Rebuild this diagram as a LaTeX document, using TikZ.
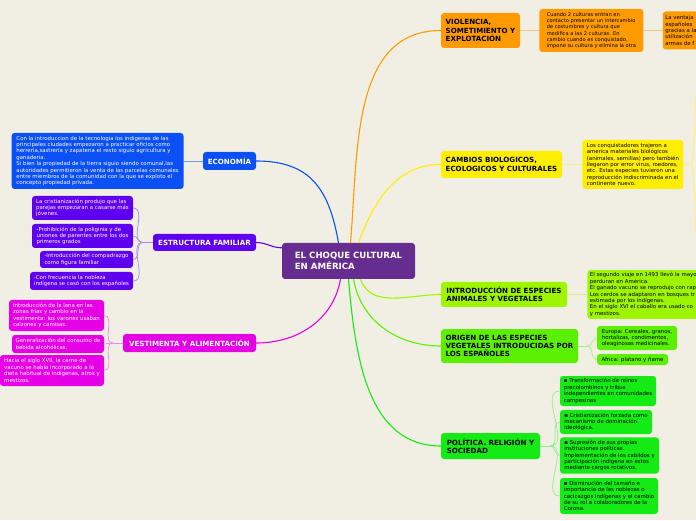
\documentclass[tikz,border=0pt]{standalone}
\usepackage{fontspec}
\setmainfont{DejaVu Sans}
\usepackage{xcolor}
\usepackage{tikz}
\usetikzlibrary{positioning}
\definecolor{cBg}{HTML}{F1EFE3}
\definecolor{cRoot}{HTML}{662D91}
\definecolor{cEco}{HTML}{0A50F5}
\definecolor{cEcoL}{HTML}{7096F2}
\definecolor{cFam}{HTML}{6000F0}
\definecolor{cFamL}{HTML}{A486F2}
\definecolor{cVest}{HTML}{E600E6}
\definecolor{cVestL}{HTML}{EE84EE}
\definecolor{cViol}{HTML}{FF9A00}
\definecolor{cViolL}{HTML}{F4C680}
\definecolor{cCamb}{HTML}{FFEE00}
\definecolor{cCambL}{HTML}{FFF07C}
\definecolor{cIntro}{HTML}{9EF500}
\definecolor{cIntroL}{HTML}{C9F480}
\definecolor{cOrig}{HTML}{5AF000}
\definecolor{cOrigL}{HTML}{A6F27E}
\definecolor{cPol}{HTML}{14EA14}
\definecolor{cPolL}{HTML}{8CF08C}

\begin{document}
\begin{tikzpicture}[
    x=1pt, y=1pt,
    font=\fontsize{5.4}{6.4}\selectfont,
    box/.style={rounded corners=3pt, inner sep=2.5pt, align=left},
    topic/.style={box, font=\fontsize{7.1}{8.4}\selectfont\bfseries},
    leaf/.style={box},
    link/.style={line width=1.1pt},
    twig/.style={line width=0.7pt}
]
\clip (0,0) rectangle (696,520);
\fill[cBg] (0,0) rectangle (696,520);

% --- root ---
\node[box, fill=cRoot, text=white, minimum width=133, minimum height=36,
      font=\fontsize{8.6}{11}\selectfont\bfseries] (root) at (348.5,259)
  {EL CHOQUE CULTURAL\\EN AMÉRICA};

% --- left: economia ---
\node[topic, fill=cEco, text=white, minimum width=53, minimum height=18] (eco) at (229.5,359) {ECONOMÍA};
\node[leaf, fill=cEco, text=white, minimum width=172, minimum height=56, left=19pt of eco] (ecotxt)
  {Con la introduccion de la tecnologia los indigenas de las\\
   principales ciudades empezaron a practicar oficios como\\
   herreria,sastreria y zapateria el resto siguio agricultura y\\
   ganaderia.\\
   Si bien la propiedad de la tierra siguio siendo comunal,las\\
   autoridades permitieron la venta de las parcelas comunales\\
   entre miembros de la comunidad con la que se exploto el\\
   concepto propiedad privada.};

% --- left: estructura familiar ---
\node[topic, fill=cFam, text=white, minimum width=103, minimum height=17] (fam) at (204.5,277.5) {ESTRUCTURA FAMILIAR};
\node[leaf, fill=cFam, text=white, minimum width=101, minimum height=24] (fam1) at (82.5,312)
  {La cristianización produjo que las\\parejas empezaran a casarse más\\jóvenes.};
\node[leaf, fill=cFam, text=white, minimum width=101, minimum height=24] (fam2) at (82.5,284)
  {-Prohibición de la poliginia y de\\uniones de parentes entre los dos\\primeros grados};
\node[leaf, fill=cFam, text=white, minimum width=93, minimum height=17] (fam3) at (86.5,260.5)
  {-Introducción del compadrazgo\\como figura familiar};
\node[leaf, fill=cFam, text=white, minimum width=103, minimum height=18] (fam4) at (81.5,239)
  {-Con frecuencia la nobleza\\indígena se casó con los españoles};

% --- left: vestimenta ---
\node[topic, fill=cVest, text=white, minimum width=133, minimum height=18] (ves) at (189.5,177) {VESTIMENTA Y ALIMENTACIÓN};
\node[leaf, fill=cVest, text=white, minimum width=95, minimum height=31] (ves1) at (56.5,204.5)
  {Introducción de la lana en las\\zonas frías y cambio en la\\vestimenta: los varones usaban\\calzones y camisas.};
\node[leaf, fill=cVest, text=white, minimum width=92, minimum height=18] (ves2) at (58,176)
  {Generalización del consumo de\\bebida alcohólicas.};
\node[leaf, fill=cVest, text=white, minimum width=104, minimum height=31] (ves3) at (52,149.5)
  {Hacia el siglo XVII, la carne de\\vacuno se había incorporado a la\\dieta habitual de indígenas, afros y\\mestizos.};

% --- right: violencia ---
\node[topic, fill=cViol, minimum width=79, minimum height=35] (vio) at (480.5,489.5)
  {VIOLENCIA,\\SOMETIMIENTO Y\\EXPLOTACIÓN};
\node[leaf, fill=cViol, minimum width=104, minimum height=43, right=19pt of vio, font=\fontsize{5.1}{6.3}\selectfont] (vio1)
  {Cuando 2 culturas entran en\\contacto presentar un intercambio\\de costumbres y cultura que\\modifica a las 2 culturas. En\\cambio cuando es conquistado,\\impone su cultura y elimina la otra};
\node[leaf, fill=cViol, minimum height=38, text width=70, right=19pt of vio1] (vio2)
  {La ventaja\\españoles\\gracias a la\\utilización\\armas de f};

% --- right: cambios ---
\node[topic, fill=cCamb, minimum width=121, minimum height=27] (cam) at (501.5,355.5)
  {CAMBIOS BIOLOGICOS,\\ECOLOGICOS Y CULTURALES};
\node[leaf, fill=cCamb, minimum width=101, minimum height=49, right=20pt of cam] (cam1)
  {Los conquistadores trajeron a\\america materiales biológicos\\(animales, semillas) pero también\\llegaron por error virus, roedores,\\etc. Estas especies tuvieron una\\reproducción indiscriminada en el\\continente nuevo.};

% --- right: introduccion ---
\node[topic, fill=cIntro, minimum width=126, minimum height=25] (int) at (504,225.5)
  {INTRODUCCIÓN DE ESPECIES\\ANIMALES Y VEGETALES};
\node[leaf, fill=cIntro, minimum height=48, text width=140, right=20pt of int] (int1)
  {El segundo viaje en 1493 llevó la mayo\\perduran en América.\\El ganado vacuno se reprodujo con rap\\Los cerdos se adaptaron en bosques tr\\estimada por los indígenas.\\En el siglo XVI el caballo era usado co\\y mestizos.};

% --- right: origen ---
\node[topic, fill=cOrig, minimum width=137, minimum height=34] (ori) at (509.5,174)
  {ORIGEN DE LAS ESPECIES\\VEGETALES INTRODUCIDAS POR\\LOS ESPAÑOLES};
\node[leaf, fill=cOrig, minimum width=80, minimum height=24] (ori1) at (637,182)
  {Europa: Cereales, granos,\\hortalizas, condimentos,\\oleaginosas medicinales.};
\node[leaf, fill=cOrig, minimum width=71, minimum height=11] (ori2) at (632.5,160.5)
  {Africa: platano y ñame};

% --- right: politica ---
\node[topic, fill=cPol, minimum width=99, minimum height=26] (pol) at (490.5,74)
  {POLÍTICA. RELIGIÓN Y\\SOCIEDAD};
\node[leaf, fill=cPol, minimum width=96, minimum height=30] (pol1) at (608,129)
  {▪ Transformación de reinos\\precolombinos y tribus\\independientes en comunidades\\campesinas};
\node[leaf, fill=cPol, minimum width=92, minimum height=24] (pol2) at (606,98)
  {▪ Cristianización forzada como\\mecanismo de dominación\\ideológica.};
\node[leaf, fill=cPol, minimum width=99, minimum height=35] (pol3) at (609.5,64.5)
  {▪ Supresión de sus propias\\instituciones políticas.\\Implementación de los cabildos y\\participación indígena en estos\\mediante cargos rotativos.};
\node[leaf, fill=cPol, minimum width=98, minimum height=36] (pol4) at (609,24)
  {▪ Disminución del tamaño e\\importancia de las noblezas o\\cacicazgos indígenas y el cambio\\de su rol a colaboradores de la\\Corona.};

% --- links from root ---
\draw[link, cEco] ([xshift=-10pt]root.north) to[out=100, in=0, looseness=1.2] (eco.east);
\draw[link, cViol] ([xshift=2pt]root.north) to[out=85, in=180] (vio.west);
\draw[link, cCamb] ([xshift=10pt]root.north) to[out=70, in=180] (cam.west);
\draw[link, cFam] (fam.east) to[out=0, in=180] ([yshift=-5pt]root.north west);
\draw[link, cVest] (ves.east) to[out=0, in=-100] ([xshift=-8pt]root.south);
\draw[link, cPol] (root.south) to[out=-85, in=180] (pol.west);
\draw[link, cOrig] ([xshift=5pt]root.south) to[out=-80, in=180] (ori.west);
\draw[link, cIntro] ([xshift=12pt]root.south) to[out=-70, in=180] (int.west);

% --- twigs ---
\draw[twig, cEcoL] (eco.west) -- (ecotxt.east);
\draw[twig, cFamL] (fam.west) -- ++(-10,0) coordinate (famj);
\foreach \n in {fam1,fam2,fam3,fam4}
  \draw[twig, cFamL] (famj) to[out=180, in=0] (\n.east);
\draw[twig, cVestL] (ves.west) -- ++(-10,0) coordinate (vesj);
\foreach \n in {ves1,ves2,ves3}
  \draw[twig, cVestL] (vesj) to[out=180, in=0] (\n.east);
\draw[twig, cViolL] (vio.east) -- (vio1.west);
\draw[twig, cViolL] (vio1.east) -- (vio2.west);
\draw[twig, cCambL] (cam.east) -- (cam1.west);
\draw[twig, cCambL] (cam1.east) -- ++(7,0) coordinate (camj);
% yellow branches leaving the page
\coordinate (camo1) at (697,440);
\coordinate (camo2) at (699,412);
\coordinate (camo3) at (699,300);
\coordinate (camo4) at (697,272);
\foreach \c in {camo1,camo2}
  \draw[twig, cCambL] (camj) .. controls (694,355.5) and (693,380) .. (\c);
\foreach \c in {camo3,camo4}
  \draw[twig, cCambL] (camj) .. controls (694,355.5) and (693,330) .. (\c);
\draw[twig, cIntroL] (int.east) -- (int1.west);
\draw[twig, cOrigL] (ori.east) -- ++(9,0) coordinate (orij);
\foreach \n in {ori1,ori2}
  \draw[twig, cOrigL] (orij) to[out=0, in=180] (\n.west);
\draw[twig, cPolL] (pol.east) -- ++(10,0) coordinate (polj);
\foreach \n in {pol1,pol2,pol3,pol4}
  \draw[twig, cPolL] (polj) to[out=0, in=180] (\n.west);

\end{tikzpicture}
\end{document}
